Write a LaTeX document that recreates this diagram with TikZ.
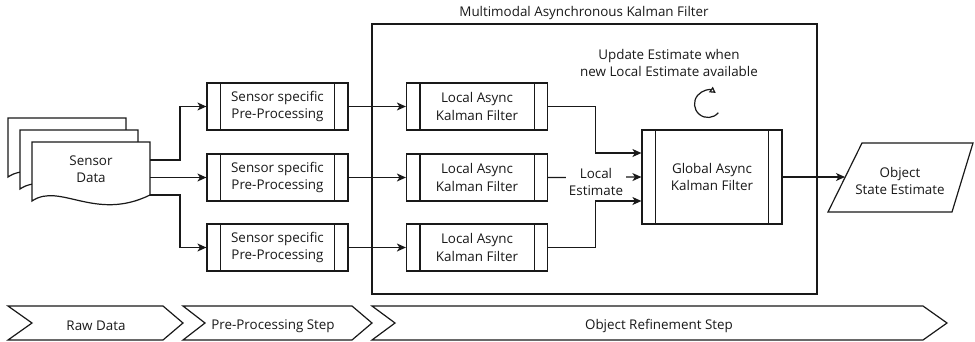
\documentclass[tikz,border=0pt]{standalone}
\usepackage{fontspec}
\setmainfont{Open Sans}
\usetikzlibrary{arrows.meta,calc}

\tikzset{
  ln/.style={line width=1.2pt, draw=black!90},
  arr/.style={ln, -{Stealth[length=9pt,width=8pt,inset=2.5pt]}},
  txt/.style={font=\fontsize{13.4}{17.5}\selectfont, text=black!90, align=center},
  procbox/.style={ln, txt, fill=white, rectangle, minimum width=141pt, minimum height=47pt, inner sep=0pt},
  docshape/.style={ln, fill=white},
  chevron/.style={ln, fill=white},
}

% vertical bars inside a predefined-process box
\newcommand{\sidebars}[2]{%
  \draw[ln] ([xshift=#2]#1.north west) -- ([xshift=#2]#1.south west);
  \draw[ln] ([xshift=-#2]#1.north east) -- ([xshift=-#2]#1.south east);
}

\begin{document}
\begin{tikzpicture}[x=1pt,y=-1pt]
\useasboundingbox (0,0) rectangle (975,341);

% outer filter frame
\draw[ln] (372,24) rectangle (817,294);
\node[txt] (title) at (584,13) {Multimodal Asynchronous Kalman Filter};

% stacked sensor data documents
\foreach \dx/\dy in {-24/-24,-12/-12,0/0}{
  \draw[docshape] ($(32,142)+(\dx,\dy)$) -- ($(150,142)+(\dx,\dy)$) -- ($(150,195)+(\dx,\dy)$)
    .. controls ($(95,222)+(\dx,\dy)$) and ($(60,182)+(\dx,\dy)$) .. ($(32,201)+(\dx,\dy)$) -- cycle;
}
\node[txt] (data) at (91,169) {Sensor\\Data};
\coordinate (d1) at (150,160);
\coordinate (d2) at (150,177.5);
\coordinate (d3) at (150,195);

% pre-processing boxes
\node[procbox] (p1) at (277.5,106.5) {Sensor specific\\Pre-Processing};
\node[procbox] (p2) at (277.5,177.5) {Sensor specific\\Pre-Processing};
\node[procbox] (p3) at (277.5,247.5) {Sensor specific\\Pre-Processing};
\foreach \n in {p1,p2,p3}{\sidebars{\n}{14pt}}

% local filters
\node[procbox] (l1) at (477,106.5) {Local Async\\Kalman Filter};
\node[procbox] (l2) at (477,177.5) {Local Async\\Kalman Filter};
\node[procbox] (l3) at (477,247.5) {Local Async\\Kalman Filter};
\foreach \n in {l1,l2,l3}{\sidebars{\n}{14pt}}

% global filter
\node[procbox, minimum width=140pt, minimum height=94pt] (g) at (712,177) {Global Async\\Kalman Filter};
\sidebars{g}{14pt}

% output parallelogram
\draw[ln, fill=white] (862,143) -- (973,143) -- (952,212) -- (828,212) -- cycle;
\node[txt] (out) at (900,181) {Object\\State Estimate};
\coordinate (outin) at (845,177);

% update note with cycle arrow
\node[txt] (note) at (669,63) {Update Estimate when\\new Local Estimate available};
\coordinate (cyc) at (708,104);
\draw[ln, -{Triangle[open,length=6pt,width=6.5pt]}] ($(cyc)+(40:13.5)$) arc[start angle=40, end angle=305, radius=13.5];

% connectors
\draw[arr] (d1) -- ++(30,0) |- (p1.west);
\draw[arr] (d2) -- (p2.west);
\draw[arr] (d3) -- ++(30,0) |- (p3.west);
\draw[arr] (p1.east) -- (l1.west);
\draw[arr] (p2.east) -- (l2.west);
\draw[arr] (p3.east) -- (l3.west);
\draw[arr] (l1.east) -- ++(47,0) |- ([yshift=24pt]g.west);
\draw[arr] (l2.east) -- (g.west);
\draw[arr] (l3.east) -- ++(47,0) |- ([yshift=-24pt]g.west);
\node[txt, fill=white, inner xsep=3pt, inner ysep=1pt] (le) at (596,182) {Local\\Estimate};
\draw[arr] (g.east) -- (outin);

% process stages
\draw[chevron] (8,306) -- (163,306) -- (183,323) -- (163,340) -- (8,340) -- (32,323) -- cycle;
\draw[chevron] (183,306) -- (352,306) -- (372,323) -- (352,340) -- (183,340) -- (205,323) -- cycle;
\draw[chevron] (372,306) -- (923,306) -- (947,323) -- (923,340) -- (372,340) -- (395,323) -- cycle;
\node[txt] (s1) at (96,326) {Raw Data};
\node[txt] (s2) at (273,326) {Pre-Processing Step};
\node[txt] (s3) at (659,326) {Object Refinement Step};
\end{tikzpicture}
\end{document}
